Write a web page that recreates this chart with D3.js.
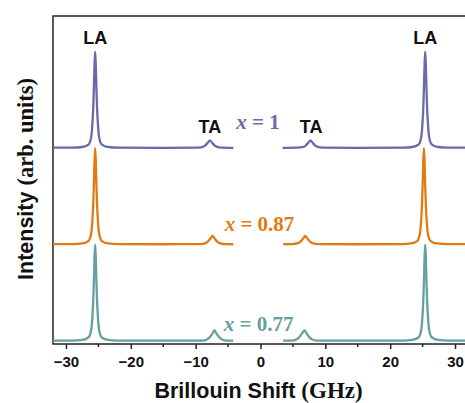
<!DOCTYPE html>
<html>
<head>
<meta charset="utf-8">
<script src="https://cdn.jsdelivr.net/npm/d3@7"></script>
<style>
  body { margin: 0; background: #fff; }
  svg { display: block; }
  .sans { font-family: "Liberation Sans", Arial, sans-serif; font-weight: bold; }
  .serif { font-family: "Liberation Serif", "Times New Roman", serif; font-weight: bold; }
</style>
</head>
<body>
<svg id="chart" width="465" height="403"></svg>
<script>
// composition labels, colours and vertical stacking offsets (arb. units)
var series = ["x = 1", "x = 0.87", "x = 0.77"];
var colors = ["#6a6aab", "#e07b12", "#63a09f"];
var offsets = [2.03, 1.03, 0.03];

// spectra: [shift (GHz), intensity], left and right of the blocked centre
var spec1Left = [[-32,0.005],[-29,0.006],[-27.5,0.012],[-26.5,0.04],[-26.1,0.12],[-25.9,0.28],[-25.8,0.41],[-25.7,0.61],[-25.6,0.86],[-25.5,1.0],[-25.4,0.86],[-25.3,0.61],[-25.2,0.41],[-25.1,0.28],[-24.9,0.12],[-24.5,0.04],[-23.5,0.012],[-22,0.006],[-15,0.004],[-9.6,0.006],[-8.9,0.014],[-8.5,0.03],[-8.1,0.058],[-7.8,0.08],[-7.5,0.058],[-7.1,0.03],[-6.7,0.014],[-6,0.006],[-4.2,0.004]];
var spec1Right = [[3.4,0.004],[5.6,0.006],[6.6,0.014],[7.0,0.03],[7.4,0.058],[7.7,0.08],[8.0,0.058],[8.4,0.03],[8.8,0.014],[9.6,0.006],[15,0.004],[22,0.006],[23.4,0.012],[24.4,0.04],[24.8,0.12],[25.0,0.28],[25.1,0.41],[25.2,0.61],[25.3,0.86],[25.4,1.0],[25.5,0.86],[25.6,0.61],[25.7,0.41],[25.8,0.28],[26.0,0.12],[26.4,0.04],[27.4,0.012],[29,0.006],[32,0.005]];

var spec2Left = [[-32,0.005],[-29,0.006],[-27.5,0.012],[-26.5,0.04],[-26.1,0.12],[-25.9,0.28],[-25.8,0.41],[-25.7,0.61],[-25.6,0.86],[-25.5,1.0],[-25.4,0.86],[-25.3,0.61],[-25.2,0.41],[-25.1,0.28],[-24.9,0.12],[-24.5,0.04],[-23.5,0.012],[-22,0.006],[-15,0.004],[-9.2,0.006],[-8.5,0.016],[-8.1,0.034],[-7.7,0.065],[-7.4,0.09],[-7.1,0.065],[-6.7,0.034],[-6.3,0.016],[-5.6,0.006],[-4.2,0.004]];
var spec2Right = [[3.5,0.004],[4.8,0.006],[5.8,0.016],[6.2,0.034],[6.6,0.065],[6.9,0.09],[7.2,0.065],[7.6,0.034],[8.0,0.016],[8.8,0.006],[15,0.004],[22,0.006],[23.2,0.012],[24.2,0.04],[24.6,0.12],[24.8,0.28],[24.9,0.41],[25.0,0.61],[25.1,0.86],[25.2,1.0],[25.3,0.86],[25.4,0.61],[25.5,0.41],[25.6,0.28],[25.8,0.12],[26.2,0.04],[27.2,0.012],[29,0.006],[32,0.005]];

var spec3Left = [[-32,0.005],[-29,0.006],[-27.5,0.012],[-26.5,0.04],[-26.1,0.12],[-25.9,0.28],[-25.8,0.41],[-25.7,0.61],[-25.6,0.86],[-25.5,1.0],[-25.4,0.86],[-25.3,0.61],[-25.2,0.41],[-25.1,0.28],[-24.9,0.12],[-24.5,0.04],[-23.5,0.012],[-22,0.006],[-15,0.004],[-8.9,0.006],[-8.2,0.02],[-7.8,0.042],[-7.4,0.08],[-7.1,0.11],[-6.8,0.08],[-6.4,0.042],[-6.0,0.02],[-5.3,0.006],[-4.2,0.004]];
var spec3Right = [[3.5,0.004],[4.9,0.006],[5.6,0.02],[6.0,0.042],[6.4,0.08],[6.8,0.11],[7.1,0.08],[7.5,0.042],[7.9,0.02],[8.7,0.006],[15,0.004],[22,0.006],[23.4,0.012],[24.4,0.04],[24.8,0.12],[25.0,0.28],[25.1,0.41],[25.2,0.61],[25.3,0.86],[25.4,1.0],[25.5,0.86],[25.6,0.61],[25.7,0.41],[25.8,0.28],[26.0,0.12],[26.4,0.04],[27.4,0.012],[29,0.006],[32,0.005]];

var spectra = [[spec1Left, spec1Right], [spec2Left, spec2Right], [spec3Left, spec3Right]];

var xMajorTicks = [-30, -20, -10, 0, 10, 20, 30];
var xMinorTicks = [-25, -15, -5, 5, 15, 25];

// peak labels: [text, shift, intensity above offset of top spectrum]
var peakLabels = [["LA", -25.5, 1.08], ["LA", 25.4, 1.08], ["TA", -7.8, 0.157], ["TA", 7.8, 0.157]];
// composition label anchor (shift, intensity above each offset)
var seriesLabelPos = [[-0.4, 0.2], [-0.15, 0.14], [-0.3, 0.105]];

var svg = d3.select("#chart");
var margin = { left: 53, top: 16, right: 468, bottom: 344 };

var x = d3.scaleLinear().domain([-32, 32]).range([margin.left, margin.right]);
var y = d3.scaleLinear().domain([0, 3.4]).range([margin.bottom, margin.top]);

// frame
svg.append("rect")
  .attr("x", margin.left).attr("y", margin.top)
  .attr("width", margin.right - margin.left)
  .attr("height", margin.bottom - margin.top)
  .attr("fill", "none").attr("stroke", "#222").attr("stroke-width", 1.5);

// bottom axis
var gx = svg.append("g").attr("transform", "translate(0," + margin.bottom + ")");
gx.call(d3.axisBottom(x).tickValues(xMajorTicks).tickSize(5).tickPadding(7)
  .tickFormat(d3.format("d")))
  .call(function (g) { g.select(".domain").remove(); })
  .call(function (g) {
    g.selectAll("line").attr("stroke", "#222").attr("stroke-width", 1.5);
    g.selectAll("text").attr("class", "sans").attr("font-size", 15).attr("fill", "#111")
      .text(function (d) { return d < 0 ? "\u2212" + Math.abs(d) : d; });
  });
gx.selectAll(".minor").data(xMinorTicks).enter().append("line")
  .attr("x1", function (d) { return x(d); }).attr("x2", function (d) { return x(d); })
  .attr("y1", 0).attr("y2", 3)
  .attr("stroke", "#222").attr("stroke-width", 1.5);

// spectra
var line = d3.line()
  .x(function (d) { return x(d[0]); })
  .y(function (d) { return y(d[1]); })
  .curve(d3.curveMonotoneX);

spectra.forEach(function (segs, i) {
  segs.forEach(function (seg) {
    svg.append("path")
      .datum(seg.map(function (p) { return [p[0], p[1] + offsets[i]]; }))
      .attr("d", line)
      .attr("fill", "none")
      .attr("stroke", colors[i])
      .attr("stroke-width", 2.3)
      .attr("stroke-linejoin", "round");
  });
});

// peak labels
svg.selectAll(".peak").data(peakLabels).enter().append("text")
  .attr("class", "sans")
  .attr("x", function (d) { return x(d[1]); })
  .attr("y", function (d) { return y(offsets[0] + d[2]); })
  .attr("text-anchor", "middle")
  .attr("font-size", 18)
  .attr("fill", "#111")
  .text(function (d) { return d[0]; });

// composition labels
series.forEach(function (s, i) {
  var parts = s.split(" = ");
  var t = svg.append("text")
    .attr("class", "serif")
    .attr("x", x(seriesLabelPos[i][0]))
    .attr("y", y(offsets[i] + seriesLabelPos[i][1]))
    .attr("text-anchor", "middle")
    .attr("font-size", 21)
    .attr("fill", colors[i]);
  t.append("tspan").attr("font-style", "italic").text(parts[0]);
  t.append("tspan").text(" = " + parts[1]);
});

// axis titles
var xt = svg.append("text")
  .attr("x", x(-0.3)).attr("y", 398)
  .attr("text-anchor", "middle").attr("font-size", 21.5).attr("fill", "#111");
xt.append("tspan").attr("class", "sans").text("Brillouin Shift ");
xt.append("tspan").attr("class", "serif").attr("font-size", 23).text("(GHz)");

var yt = svg.append("text")
  .attr("transform", "translate(33,179) rotate(-90)")
  .attr("text-anchor", "middle").attr("font-size", 21.5).attr("fill", "#111");
yt.append("tspan").attr("class", "sans").text("Intensity ");
yt.append("tspan").attr("class", "serif").attr("font-size", 22.5).text("(arb. units)");
</script>
</body>
</html>
